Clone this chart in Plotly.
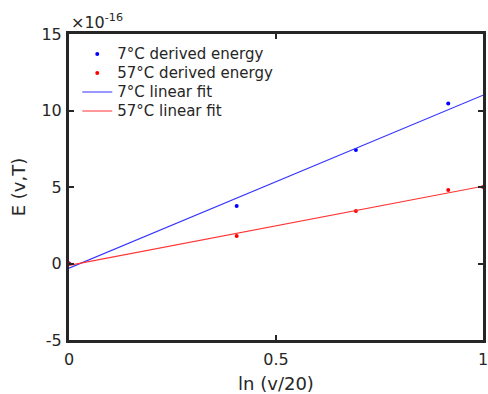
import plotly.graph_objects as go

# Data (energies in units of 1e-16)
x_pts = [0.0, 0.405, 0.693, 0.916]
e7 = [0.0, 3.76, 7.42, 10.45]
x_pts57 = [0.0, 0.405, 0.693, 0.916, 1.0]
e57 = [0.0, 1.8, 3.43, 4.8, 5.0]
x_fit = [0.0, 1.0]
fit7 = [-0.3, 11.0]
fit57 = [-0.12, 5.05]

x_ticks = [0, 0.5, 1]
x_ticktext = ["0", "0.5", "1"]
y_ticks = [-5, 0, 5, 10, 15]
y_ticktext = ["-5", "0", "5", "10", "15"]

FONT = "DejaVu Sans"
AX = "#262626"


def lg(t):
    return '<span style="font-size:15px">' + t + '</span>'


fig = go.Figure()
fig.add_trace(go.Scatter(x=x_pts, y=e7, mode="markers", name=lg("7°C derived energy"),
                         marker=dict(color="blue", size=4)))
fig.add_trace(go.Scatter(x=x_pts57, y=e57, mode="markers", name=lg("57°C derived energy"),
                         marker=dict(color="red", size=4)))
fig.add_trace(go.Scatter(x=x_fit, y=fit7, mode="lines", name=lg("7°C linear fit"),
                         line=dict(color="#3333ff", width=1.2)))
fig.add_trace(go.Scatter(x=x_fit, y=fit57, mode="lines", name=lg("57°C linear fit"),
                         line=dict(color="#ff3333", width=1.2)))

axis_common = dict(showline=True, linewidth=3, linecolor=AX, mirror="ticks",
                   ticks="inside", ticklen=5, tickwidth=2, tickcolor=AX,
                   showgrid=False, zeroline=False, automargin=False,
                   ticklabeloverflow="allow",
                   tickfont=dict(family=FONT, size=16, color=AX))

fig.update_layout(
    width=488, height=394,
    margin=dict(l=69, r=5, t=34, b=54, autoexpand=False),
    paper_bgcolor="white", plot_bgcolor="white",
    font=dict(family=FONT, color=AX),
    xaxis=dict(range=[0, 1], tickvals=x_ticks, ticktext=x_ticktext, ticklabelstandoff=3,
               title=dict(text="ln (v/20)", font=dict(family=FONT, size=18, color=AX), standoff=16),
               **axis_common),
    yaxis=dict(range=[-5, 15], tickvals=y_ticks, ticktext=y_ticktext, ticklabelstandoff=1,
               title=dict(text="E (v,T)", font=dict(family=FONT, size=18, color=AX), standoff=12),
               **axis_common),
    legend=dict(x=0.02, y=0.982, xanchor="left", yanchor="top",
                bgcolor="rgba(0,0,0,0)", font=dict(family=FONT, size=12, color=AX),
                tracegroupgap=0, itemsizing="trace"),
    showlegend=True,
    annotations=[dict(text="×10<sup>-16</sup>", xref="paper", yref="paper",
                      x=0.0, y=1.0, xanchor="left", yanchor="bottom",
                      showarrow=False, font=dict(family=FONT, size=16, color=AX))],
)

fig.write_html("out.html")
